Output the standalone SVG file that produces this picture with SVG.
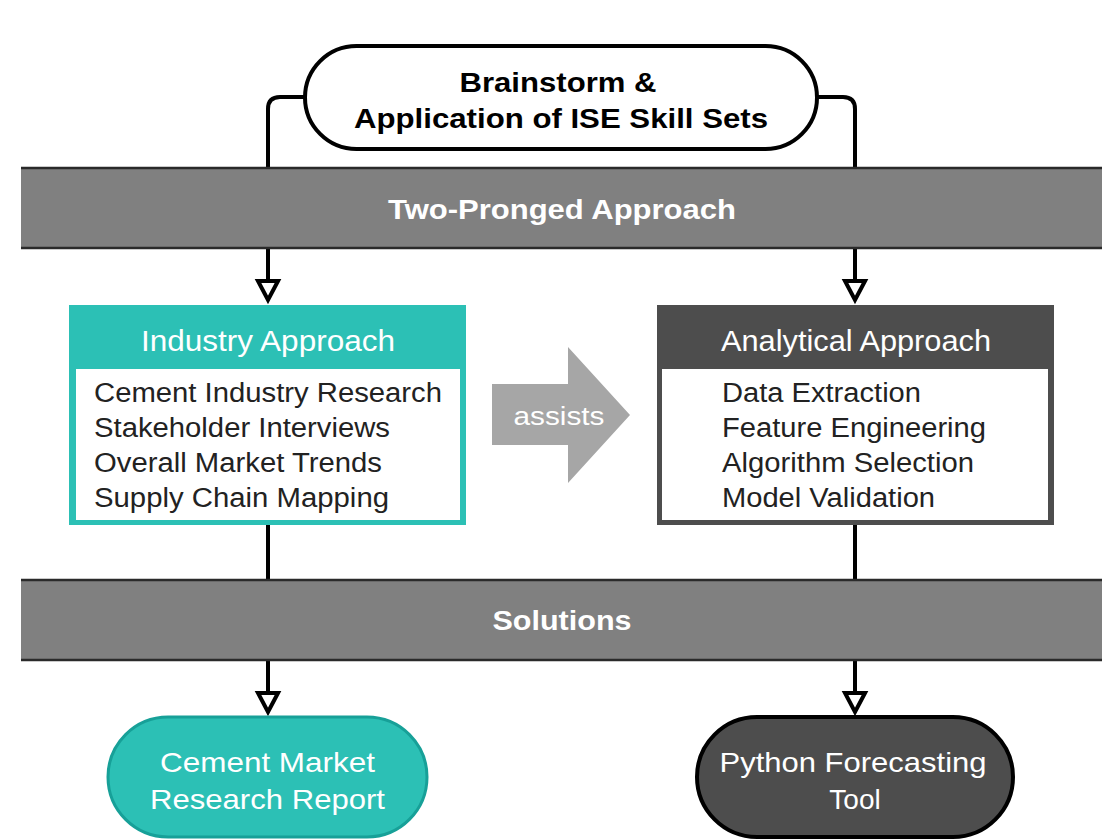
<svg xmlns="http://www.w3.org/2000/svg" width="1102" height="839" viewBox="0 0 1102 839">
<defs>
<style>
.t{font-family:"Liberation Sans",Arial,sans-serif;}
.b{font-weight:bold;}
.conn{fill:none;stroke:#000;stroke-width:4;stroke-linejoin:round;}
.item{font-size:27px;fill:#222;}
.title{font-size:30px;fill:#fff;}
.bar{fill:#808080;}
.barEdge{stroke:#2a2a2a;stroke-width:2.5;fill:none;}
.term{font-size:28px;fill:#fff;text-anchor:middle;}
</style>
<marker id="arr" markerUnits="userSpaceOnUse" viewBox="-3 -14 28 28" refX="19" refY="0" markerWidth="28" markerHeight="28" orient="auto">
<path d="M0,-10 L19,0 L0,10 Z" fill="#fff" stroke="#000" stroke-width="4" stroke-linejoin="miter"/>
</marker>
</defs>
<rect width="1102" height="839" fill="#fff"/>

<g id="connectors">
<path class="conn" d="M305,97 H280 Q268,97 268,109 V168"/>
<path class="conn" d="M817,97 H843 Q855,97 855,109 V168"/>
<path class="conn" d="M268,249 V300" marker-end="url(#arr)"/>
<path class="conn" d="M855,249 V300" marker-end="url(#arr)"/>
<path class="conn" d="M268,525 V580"/>
<path class="conn" d="M855,525 V580"/>
<path class="conn" d="M268,661 V712" marker-end="url(#arr)"/>
<path class="conn" d="M855,661 V712" marker-end="url(#arr)"/>
</g>

<g id="start">
<rect x="305" y="46" width="512" height="103" rx="51.5" ry="51.5" fill="#fff" stroke="#000" stroke-width="4"/>
<text class="t b" x="558" y="92" font-size="28" text-anchor="middle" textLength="197" lengthAdjust="spacingAndGlyphs">Brainstorm &amp;</text>
<text class="t b" x="561" y="128" font-size="28" text-anchor="middle" textLength="414" lengthAdjust="spacingAndGlyphs">Application of ISE Skill Sets</text>
</g>

<g id="bar-approach">
<rect class="bar" x="21" y="168" width="1090" height="80"/>
<path class="barEdge" d="M21,168 H1102 M21,248 H1102"/>
<text class="t b" x="562" y="219" font-size="28" fill="#fff" text-anchor="middle" textLength="348" lengthAdjust="spacingAndGlyphs">Two-Pronged Approach</text>
</g>

<g id="industry">
<rect x="69" y="305" width="397" height="220" fill="#2CC0B5"/>
<rect x="76" y="369" width="384" height="151" fill="#fff"/>
<text class="t title" x="268" y="351" text-anchor="middle" textLength="254" lengthAdjust="spacingAndGlyphs">Industry Approach</text>
<text class="t item" x="94" y="402" textLength="348" lengthAdjust="spacingAndGlyphs">Cement Industry Research</text>
<text class="t item" x="94" y="437" textLength="296" lengthAdjust="spacingAndGlyphs">Stakeholder Interviews</text>
<text class="t item" x="94" y="472" textLength="288" lengthAdjust="spacingAndGlyphs">Overall Market Trends</text>
<text class="t item" x="94" y="507" textLength="295" lengthAdjust="spacingAndGlyphs">Supply Chain Mapping</text>
</g>

<g id="assists">
<polygon points="492,384 568,384 568,347 630,415 568,483 568,445 492,445" fill="#A6A6A6"/>
<text class="t" x="559" y="425" font-size="26" fill="#fff" text-anchor="middle" textLength="91" lengthAdjust="spacingAndGlyphs">assists</text>
</g>

<g id="analytical">
<rect x="657" y="305" width="397" height="220" fill="#4D4D4D"/>
<rect x="662" y="369" width="386" height="151" fill="#fff"/>
<text class="t title" x="856" y="351" text-anchor="middle" textLength="270" lengthAdjust="spacingAndGlyphs">Analytical Approach</text>
<text class="t item" x="722" y="402" textLength="199" lengthAdjust="spacingAndGlyphs">Data Extraction</text>
<text class="t item" x="722" y="437" textLength="264" lengthAdjust="spacingAndGlyphs">Feature Engineering</text>
<text class="t item" x="722" y="472" textLength="252" lengthAdjust="spacingAndGlyphs">Algorithm Selection</text>
<text class="t item" x="722" y="507" textLength="213" lengthAdjust="spacingAndGlyphs">Model Validation</text>
</g>

<g id="bar-solutions">
<rect class="bar" x="21" y="580" width="1090" height="80"/>
<path class="barEdge" d="M21,580 H1102 M21,660 H1102"/>
<text class="t b" x="562" y="630" font-size="28" fill="#fff" text-anchor="middle" textLength="139" lengthAdjust="spacingAndGlyphs">Solutions</text>
</g>

<g id="report">
<rect x="108" y="717" width="319" height="120" rx="60" ry="60" fill="#2CC0B5" stroke="#17A098" stroke-width="3"/>
<text class="t term" x="267.5" y="772" textLength="215" lengthAdjust="spacingAndGlyphs">Cement Market</text>
<text class="t term" x="267.5" y="809" textLength="235" lengthAdjust="spacingAndGlyphs">Research Report</text>
</g>

<g id="tool">
<rect x="697" y="717" width="316" height="120" rx="60" ry="60" fill="#4D4D4D" stroke="#000" stroke-width="4"/>
<text class="t term" x="853" y="772" textLength="267" lengthAdjust="spacingAndGlyphs">Python Forecasting</text>
<text class="t term" x="855" y="809">Tool</text>
</g>
</svg>
